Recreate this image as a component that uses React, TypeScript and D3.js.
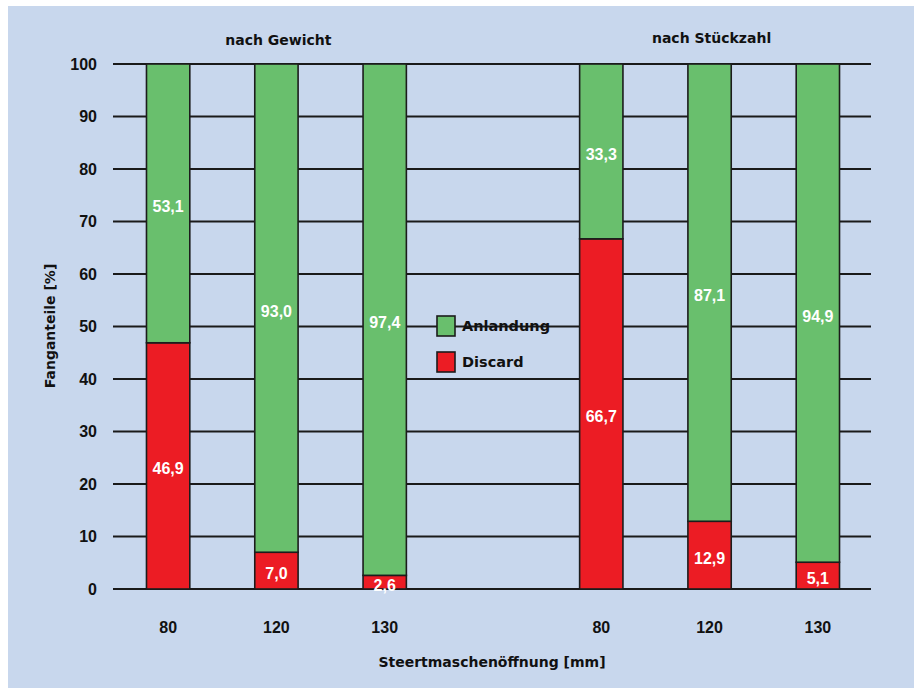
import React from "react";
import * as d3 from "d3";

// Catch shares (%) by codend mesh size, by weight and by number of fish
const meshSizes = ["80", "120", "130"];
const landedByWeight = [53.1, 93.0, 97.4];
const discardByWeight = [46.9, 7.0, 2.6];
const landedByCount = [33.3, 87.1, 94.9];
const discardByCount = [66.7, 12.9, 5.1];
const groupTitles = ["nach Gewicht", "nach Stückzahl"];
const seriesNames = ["Anlandung", "Discard"];
const yTicks = [0, 10, 20, 30, 40, 50, 60, 70, 80, 90, 100];

const W = 914;
const H = 688;
const GREEN = "#69bf6d";
const RED = "#ec1c24";
const BG = "#c8d7ed";
const FONT = "'Liberation Sans', Arial, sans-serif";
const TITLE_FONT = "'DejaVu Sans', Verdana, sans-serif";

type Bar = { key: string; label: string; landed: number; discard: number };

const bars: Bar[] = [
  ...meshSizes.map((m, i) => ({ key: "w" + m, label: m, landed: landedByWeight[i], discard: discardByWeight[i] })),
  ...meshSizes.map((m, i) => ({ key: "n" + m, label: m, landed: landedByCount[i], discard: discardByCount[i] })),
];

// band slots: three weight bars, an empty gap, three count bars
const slots = [...bars.slice(0, 3).map((b) => b.key), "gap", ...bars.slice(3).map((b) => b.key)];

const fmt = (v: number) => v.toFixed(1).replace(".", ",");

export default function App() {
  const x = d3.scaleBand<string>().domain(slots).range([114, 872]).paddingInner(0.6).paddingOuter(0.3);
  const y = d3.scaleLinear().domain([0, 100]).range([589, 64]);
  const bw = x.bandwidth();

  const groupCenter = (keys: string[]) => {
    const a = x(keys[0])!;
    const b = x(keys[keys.length - 1])! + bw;
    return (a + b) / 2;
  };
  const g1 = groupCenter(slots.slice(0, 3));
  const g2 = groupCenter(slots.slice(4));

  const stack = d3
    .stack<Bar>()
    .keys(["discard", "landed"])
    .value((d, k) => (d as any)[k]);
  const layers = stack(bars);
  const colors: Record<string, string> = { discard: RED, landed: GREEN };

  return (
    <svg width={W} height={H} style={{ position: "absolute", left: 0, top: 0, display: "block" }} fontFamily={FONT}>
      <rect x={0} y={0} width={W} height={H} fill="#ffffff" />
      <rect x={8} y={6} width={W - 8} height={H - 6} fill={BG} />

      {/* grid lines */}
      {yTicks.map((t) => (
        <line key={t} x1={113} x2={871} y1={y(t)} y2={y(t)} stroke="#1a1a1a" strokeWidth={2} />
      ))}

      {/* y tick labels */}
      {yTicks.map((t) => (
        <text key={t} x={97} y={y(t)} textAnchor="end" dominantBaseline="central" fontSize={16} fontWeight="bold" fill="#111">
          {t}
        </text>
      ))}

      {/* stacked bars */}
      {layers.map((layer) =>
        layer.map((seg) => {
          const d = seg.data;
          const x0 = x(d.key)!;
          return (
            <rect
              key={layer.key + d.key}
              x={x0}
              y={y(seg[1])}
              width={bw}
              height={y(seg[0]) - y(seg[1])}
              fill={colors[layer.key]}
              stroke="#1c1c1c"
              strokeWidth={1.6}
            />
          );
        })
      )}

      {/* value labels */}
      {layers.map((layer) =>
        layer.map((seg) => {
          const d = seg.data;
          const v = seg[1] - seg[0];
          return (
            <text
              key={"t" + layer.key + d.key}
              x={x(d.key)! + bw / 2}
              y={y((seg[0] + seg[1]) / 2) + 3}
              textAnchor="middle"
              dominantBaseline="central"
              fontSize={16}
              fontWeight="bold"
              fill="#ffffff"
            >
              {fmt(v)}
            </text>
          );
        })
      )}

      {/* x tick labels */}
      {bars.map((b) => (
        <text key={"x" + b.key} x={x(b.key)! + bw / 2} y={627} textAnchor="middle" dominantBaseline="central" fontSize={16} fontWeight="bold" fill="#111">
          {b.label}
        </text>
      ))}

      {/* group titles */}
      <g fontFamily={TITLE_FONT} fontSize={14} fontWeight="bold" fill="#111">
        <text x={g1 + 2} y={40} textAnchor="middle" dominantBaseline="central">
          {groupTitles[0]}
        </text>
        <text x={g2 + 2} y={38} textAnchor="middle" dominantBaseline="central">
          {groupTitles[1]}
        </text>

        {/* axis titles */}
        <text x={492} y={662} textAnchor="middle" dominantBaseline="central">
          Steertmaschenöffnung [mm]
        </text>
        <text transform={`translate(50,326) rotate(-90)`} textAnchor="middle" dominantBaseline="central">
          Fanganteile [%]
        </text>

        {/* legend */}
        {seriesNames.map((name, i) => (
          <g key={name} transform={`translate(437,${316 + i * 36})`}>
            <rect x={0} y={0} width={18} height={20} fill={i === 0 ? GREEN : RED} stroke="#1c1c1c" strokeWidth={1.6} />
            <text x={25} y={10} dominantBaseline="central" fontSize={14.5}>
              {name}
            </text>
          </g>
        ))}
      </g>
    </svg>
  );
}
